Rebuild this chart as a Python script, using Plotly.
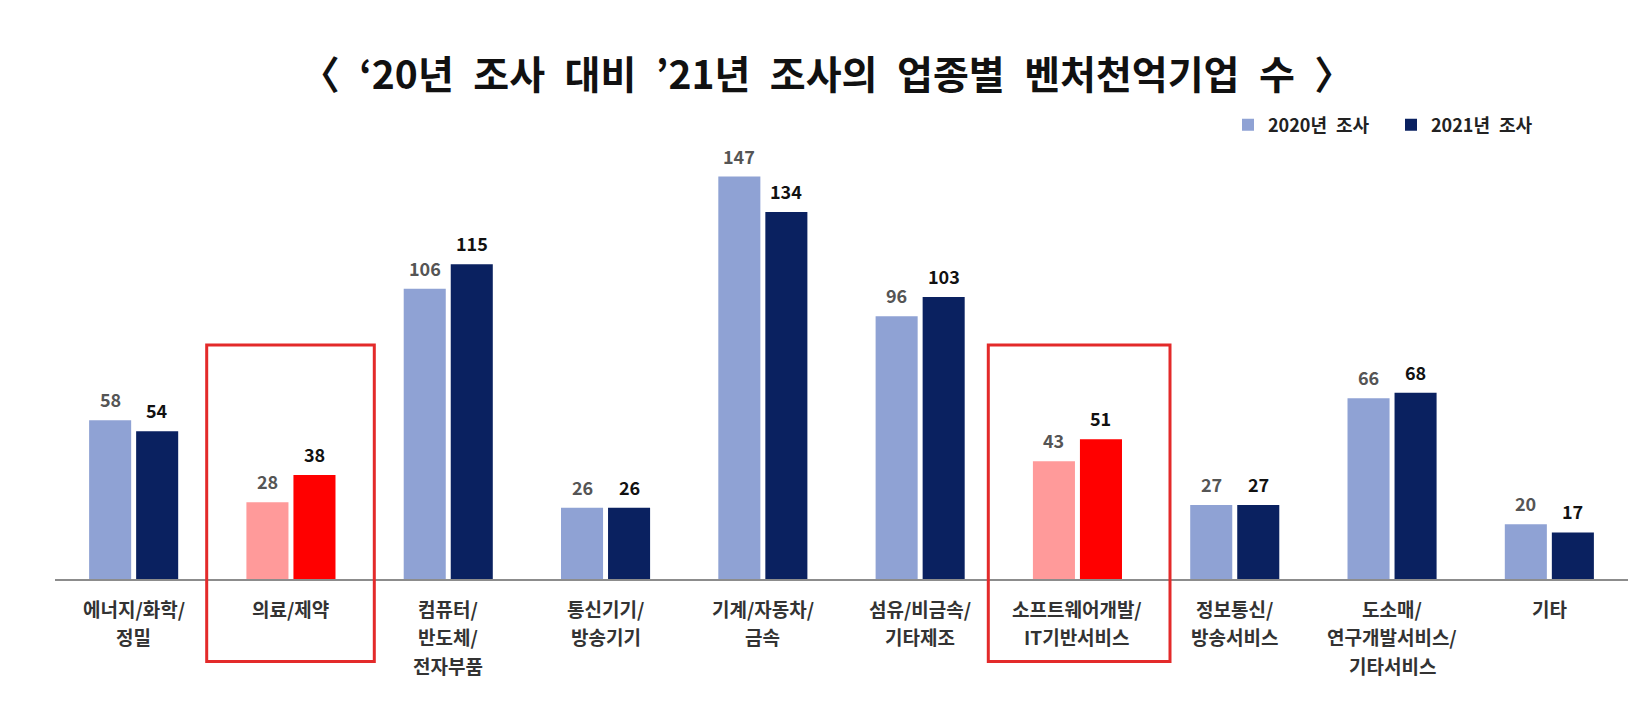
import plotly.graph_objects as go

# ---------------- data ----------------
category_lines = [
    ["에너지/화학/", "정밀"],
    ["의료/제약"],
    ["컴퓨터/", "반도체/", "전자부품"],
    ["통신기기/", "방송기기"],
    ["기계/자동차/", "금속"],
    ["섬유/비금속/", "기타제조"],
    ["소프트웨어개발/", "IT기반서비스"],
    ["정보통신/", "방송서비스"],
    ["도소매/", "연구개발서비스/", "기타서비스"],
    ["기타"],
]
categories = ["".join(lines) for lines in category_lines]
values_2020 = [58, 28, 106, 26, 147, 96, 43, 27, 66, 20]
values_2021 = [54, 38, 115, 26, 134, 103, 51, 27, 68, 17]
highlighted = ["의료/제약", "소프트웨어개발/IT기반서비스"]
series_names = ["2020년\u2002조사", "2021년\u2002조사"]
title_text = "〈\u2002‘20년\u2002조사\u2002대비\u2002’21년\u2002조사의\u2002업종별\u2002벤처천억기업\u2002수\u2002〉"

# ---------------- styles ----------------
C2020, C2021 = "#8FA2D4", "#0A2160"
H2020, H2021 = "#FF9A9A", "#FF0000"
BOX_RED = "#E32A2A"
FONT = "Noto Sans CJK KR"

W, H = 1652, 702
ML, MR, MT, MB = 55, 24, 130, 123
plot_h = H - MT - MB
px_per_unit = 2.738
y_max = plot_h / px_per_unit

col2020 = [H2020 if c in highlighted else C2020 for c in categories]
col2021 = [H2021 if c in highlighted else C2021 for c in categories]

fig = go.Figure()
fig.add_trace(go.Bar(name=series_names[0], x=categories, y=values_2020,
                     marker=dict(color=col2020, line=dict(width=0))))
fig.add_trace(go.Bar(name=series_names[1], x=categories, y=values_2021,
                     marker=dict(color=col2021, line=dict(width=0))))

annotations = []
# value labels
slot_shift = 23.5
for c, v in zip(categories, values_2020):
    annotations.append(dict(x=c, y=v, xref="x", yref="y", text=str(v), showarrow=False,
                            xshift=-slot_shift, yshift=6, yanchor="bottom",
                            font=dict(family=FONT, size=18, color="#555555", weight="bold")))
for c, v in zip(categories, values_2021):
    annotations.append(dict(x=c, y=v, xref="x", yref="y", text=str(v), showarrow=False,
                            xshift=slot_shift, yshift=6, yanchor="bottom",
                            font=dict(family=FONT, size=18, color="#111111", weight="bold")))
# category labels (multi-line, custom spacing)
for c, lines in zip(categories, category_lines):
    for i, ln in enumerate(lines):
        annotations.append(dict(x=c, y=0, xref="x", yref="paper", text=ln, showarrow=False,
                                yanchor="middle", yshift=-(29 + i * 28.5),
                                font=dict(family=FONT, size=19, color="#333333", weight="bold")))

# highlight boxes (paper coordinates)
plot_w = W - ML - MR
def px_to_paper_x(px):
    return (px - ML) / plot_w
def px_to_paper_y(py):
    return (H - MB - py) / plot_h

shapes = []
for (x0, x1) in [(206.7, 374.3), (988.3, 1170.0)]:
    shapes.append(dict(type="rect", xref="paper", yref="paper",
                       x0=px_to_paper_x(x0), x1=px_to_paper_x(x1),
                       y0=px_to_paper_y(661.5), y1=px_to_paper_y(345),
                       line=dict(color=BOX_RED, width=3), fillcolor="rgba(0,0,0,0)",
                       layer="above"))

fig.update_layout(
    width=W, height=H,
    margin=dict(l=ML, r=MR, t=MT, b=MB),
    paper_bgcolor="white", plot_bgcolor="white",
    barmode="group", bargap=0.402, bargroupgap=0.106,
    title=dict(text=title_text, x=827 / W, xref="container", xanchor="center",
               y=1 - 75 / H, yref="container", yanchor="middle",
               font=dict(family=FONT, size=39, color="#111111", weight="bold")),
    legend=dict(orientation="h", x=px_to_paper_x(1228), xanchor="left",
                y=px_to_paper_y(125), yanchor="middle",
                font=dict(family=FONT, size=18, color="#222222", weight="bold"),
                itemwidth=30, entrywidth=118, entrywidthmode="pixels",
                bgcolor="rgba(0,0,0,0)"),
    xaxis=dict(showticklabels=False, showline=True, linecolor="#8C8C8C", linewidth=2,
               ticks="", showgrid=False, zeroline=False),
    yaxis=dict(visible=False, range=[0, y_max]),
    annotations=annotations,
    shapes=shapes,
    showlegend=True,
)

fig.write_html("out.html")
